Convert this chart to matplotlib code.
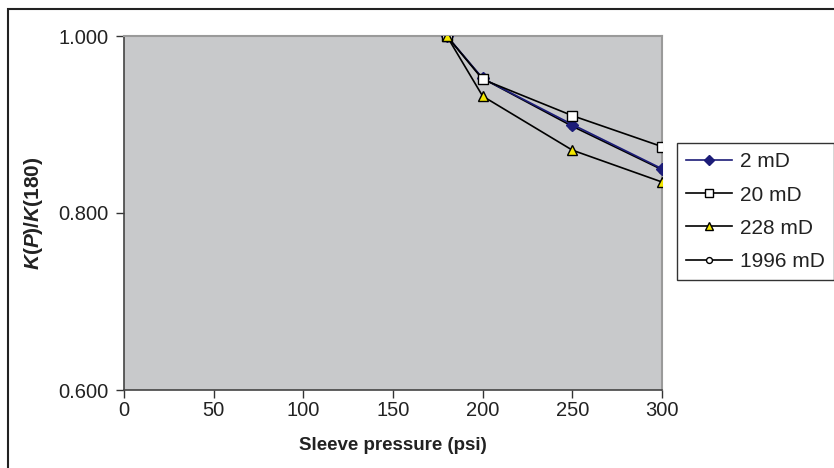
import matplotlib.pyplot as plt
from matplotlib.patches import Rectangle

plt.rcParams['font.family'] = ['Liberation Sans', 'DejaVu Sans']
plt.rcParams['mathtext.fontset'] = 'custom'
plt.rcParams['mathtext.bf'] = 'Liberation Sans:bold'
plt.rcParams['mathtext.bfit'] = 'Liberation Sans:italic:bold'

# Sleeve pressure steps and normalised permeability K(P)/K(180)
pressure = [180, 200, 250, 300]
k_2md = [1.000, 0.952, 0.900, 0.850]
k_20md = [1.000, 0.951, 0.910, 0.875]
k_228md = [1.000, 0.932, 0.871, 0.835]
k_1996md = [1.000, 0.952, 0.898, 0.849]

fig = plt.figure(figsize=(8.34, 4.68), dpi=100)
ax = fig.add_axes([124 / 834, 1 - 390 / 468, 538 / 834, 354 / 468])
ax.set_facecolor('#c8c9cb')

ax.plot(pressure, k_1996md, color='black', lw=1.2, marker='o', ms=5,
        mfc='white', mec='black', mew=1, label='1996 mD', zorder=3)
ax.plot(pressure, k_2md, color='#1c1c78', lw=1.2, marker='D', ms=6,
        mfc='#1c1c78', mec='#1c1c78', label='2 mD', zorder=4)
ax.plot(pressure, k_20md, color='black', lw=1.2, marker='s', ms=7,
        mfc='white', mec='black', mew=1, label='20 mD', zorder=5)
ax.plot(pressure, k_228md, color='black', lw=1.2, marker='^', ms=7,
        mfc='#f2e600', mec='black', mew=1, label='228 mD', zorder=6)

ax.set_xlim(0, 300)
ax.set_ylim(0.6, 1.0)
ax.set_xticks(range(0, 301, 50))
ax.set_yticks([0.6, 0.8, 1.0])
ax.set_yticklabels(['0.600', '0.800', '1.000'])
ax.tick_params(direction='out', length=6, width=1, colors='#333333',
               labelsize=14.5, labelcolor='#222222')
ax.tick_params(axis='x', pad=2)
ax.tick_params(axis='y', pad=5)

for side in ['left', 'bottom']:
    ax.spines[side].set_color('#444444')
    ax.spines[side].set_linewidth(1.2)
for side in ['top', 'right']:
    ax.spines[side].set_color('#9a9a9a')
    ax.spines[side].set_linewidth(1.5)

ax.set_xlabel('Sleeve pressure (psi)', fontsize=13.5, fontweight='bold',
              color='#222222', labelpad=12)
ax.set_ylabel(r'$\mathbfit{K}\mathbf{(}\mathbfit{P}\mathbf{)/}\mathbfit{K}\mathbf{(180)}$',
              fontsize=15, color='#222222', labelpad=10)

handles, labels = ax.get_legend_handles_labels()
order = [1, 2, 3, 0]
leg = fig.legend([handles[i] for i in order], [labels[i] for i in order],
                 loc='upper left', bbox_to_anchor=(677 / 834, 1 - 143 / 468),
                 frameon=True, fancybox=False, fontsize=15, handlelength=2.2,
                 labelspacing=0.68, borderpad=0.45, handletextpad=0.35,
                 borderaxespad=0, markerscale=0.85)
leg.get_frame().set_edgecolor('black')
leg.get_frame().set_linewidth(1.0)
for t in leg.get_texts():
    t.set_color('#222222')

# outer chart border
fig.patches.append(Rectangle((8 / 834, -0.05), 1.0, 1 - 9 / 468 + 0.05,
                             transform=fig.transFigure, fill=False,
                             edgecolor='#222222', lw=1.5))

fig.savefig('out.png', dpi=100)
